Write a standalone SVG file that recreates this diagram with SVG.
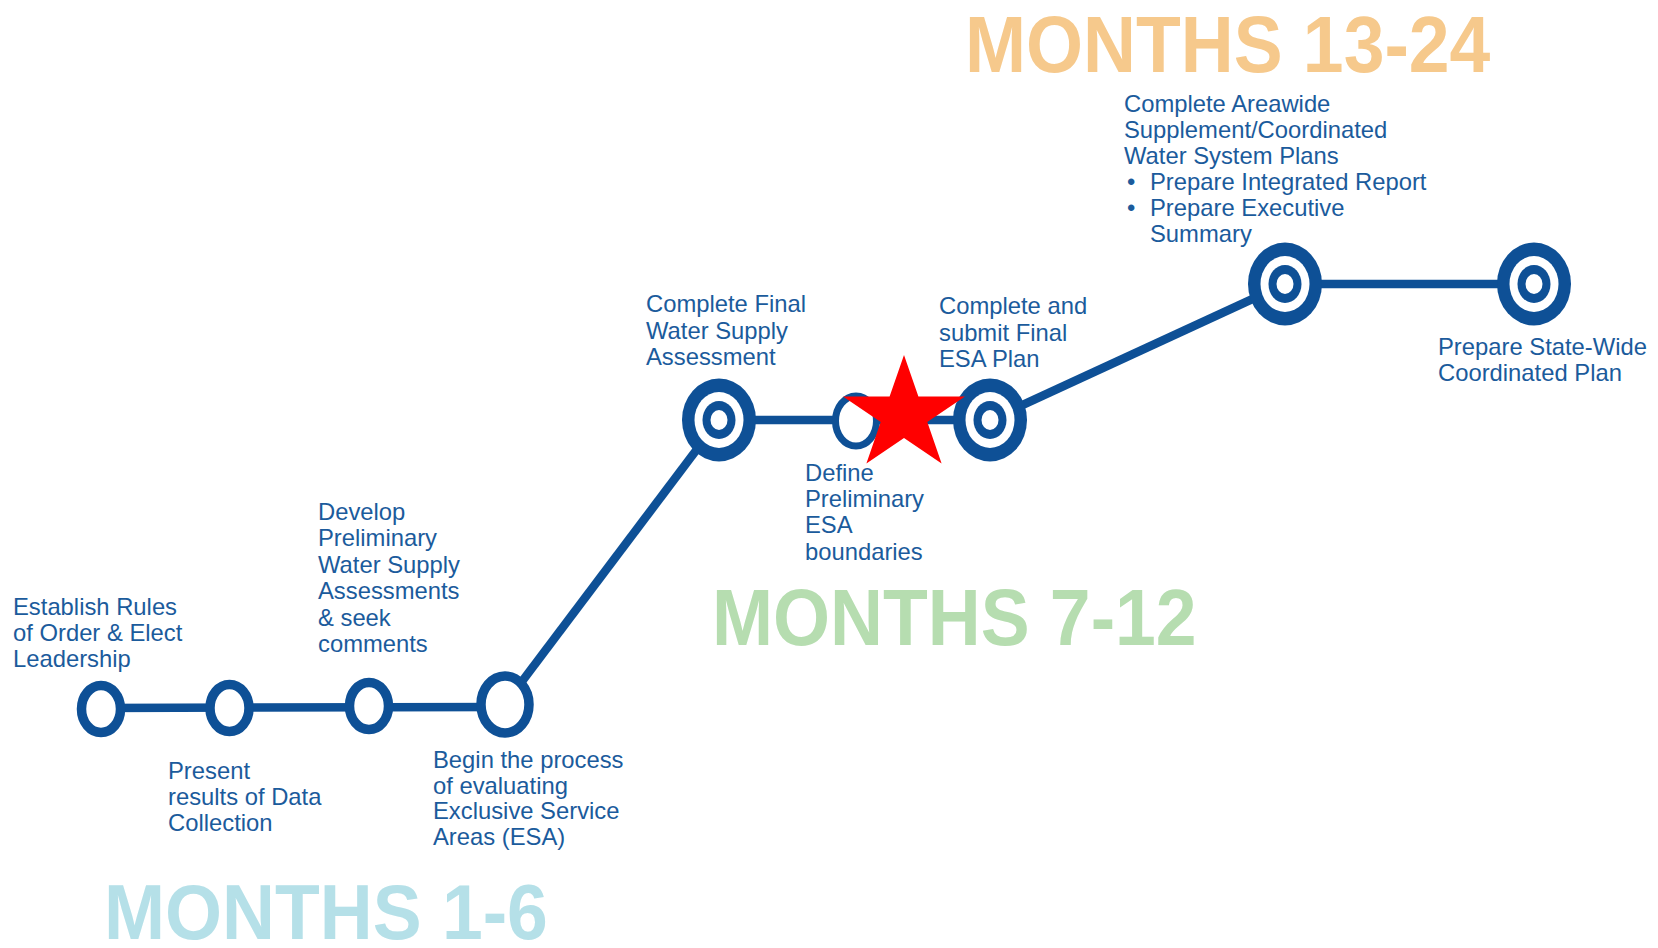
<svg xmlns="http://www.w3.org/2000/svg" xmlns:xlink="http://www.w3.org/1999/xlink" width="1658" height="948" viewBox="0 0 1658 948">
<style>
.lbl{font-family:"Liberation Sans",Arial,sans-serif;font-size:23.8px;fill:#1b5b9c;}
.ttl{font-family:"Liberation Sans",Arial,sans-serif;font-size:73.3px;font-weight:bold;}
.conn{stroke:#0e5096;stroke-width:8.5;fill:none;}
.ring{stroke:#0e5096;stroke-width:9.5;fill:#fff;}
.dark{fill:#0e5096;}
.white{fill:#fff;}
</style>
<defs>
<g id="target">
<ellipse class="dark" cx="0" cy="0" rx="37" ry="41.5"/>
<ellipse class="white" cx="0" cy="0" rx="24.5" ry="28"/>
<ellipse class="dark" cx="0" cy="0" rx="16.5" ry="19"/>
<ellipse class="white" cx="0" cy="0" rx="8.5" ry="10"/>
</g>
</defs>
<rect width="1658" height="948" fill="#fff"/>

<g id="titles">
<text class="ttl" fill="#f6c98c" transform="translate(965,72) scale(1,1.08)">MONTHS 13-24</text>
<text class="ttl" fill="#b6ddb0" transform="translate(712,645) scale(1,1.08)">MONTHS 7-12</text>
<text class="ttl" fill="#b5e0e8" transform="translate(104,939) scale(1,1.07)">MONTHS 1-6</text>
</g>

<g id="connectors">
<line class="conn" x1="101" y1="708" x2="505" y2="707"/>
<line class="conn" x1="505" y1="704" x2="719" y2="420"/>
<line class="conn" x1="719" y1="420" x2="990" y2="420"/>
<line class="conn" x1="990" y1="420" x2="1285" y2="284"/>
<line class="conn" x1="1285" y1="284" x2="1534" y2="284"/>
</g>

<g id="n1"><ellipse class="ring" cx="101" cy="709" rx="19.5" ry="23.5"/>
<text class="lbl" x="13" y="615"><tspan x="13">Establish Rules</tspan><tspan x="13" dy="26">of Order &amp; Elect</tspan><tspan x="13" dy="26">Leadership</tspan></text></g>

<g id="n2"><ellipse class="ring" cx="229.5" cy="708" rx="19.5" ry="23.5"/>
<text class="lbl" x="168" y="779"><tspan x="168">Present</tspan><tspan x="168" dy="26">results of Data</tspan><tspan x="168" dy="26">Collection</tspan></text></g>

<g id="n3"><ellipse class="ring" cx="369" cy="706" rx="19.5" ry="23.5"/>
<text class="lbl" x="318" y="520"><tspan x="318">Develop</tspan><tspan x="318" dy="26.4">Preliminary</tspan><tspan x="318" dy="26.4">Water Supply</tspan><tspan x="318" dy="26.4">Assessments</tspan><tspan x="318" dy="26.4">&amp; seek</tspan><tspan x="318" dy="26.4">comments</tspan></text></g>

<g id="n4"><ellipse class="ring" cx="505" cy="704.5" rx="24" ry="28.5"/>
<text class="lbl" x="433" y="768"><tspan x="433">Begin the process</tspan><tspan x="433" dy="25.5">of evaluating</tspan><tspan x="433" dy="25.5">Exclusive Service</tspan><tspan x="433" dy="25.5">Areas (ESA)</tspan></text></g>

<g id="n5"><use xlink:href="#target" x="719" y="420"/>
<text class="lbl" x="646" y="312"><tspan x="646">Complete Final</tspan><tspan x="646" dy="26.5">Water Supply</tspan><tspan x="646" dy="26.5">Assessment</tspan></text></g>

<g id="n6"><ellipse class="ring" cx="856" cy="421" rx="20.5" ry="25" style="stroke-width:7"/>
<text class="lbl" x="805" y="481"><tspan x="805">Define</tspan><tspan x="805" dy="26.2">Preliminary</tspan><tspan x="805" dy="26.2">ESA</tspan><tspan x="805" dy="26.2">boundaries</tspan></text></g>

<g id="n7"><use xlink:href="#target" x="990" y="420"/>
<text class="lbl" x="939" y="314"><tspan x="939">Complete and</tspan><tspan x="939" dy="26.5">submit Final</tspan><tspan x="939" dy="26.5">ESA Plan</tspan></text></g>

<g id="n8"><use xlink:href="#target" x="1285" y="284"/>
<text class="lbl" x="1124" y="112"><tspan x="1124">Complete Areawide</tspan><tspan x="1124" dy="26">Supplement/Coordinated</tspan><tspan x="1124" dy="26">Water System Plans</tspan><tspan x="1127" dy="26">•</tspan><tspan x="1150">Prepare Integrated Report</tspan><tspan x="1127" dy="26">•</tspan><tspan x="1150">Prepare Executive</tspan><tspan x="1150" dy="26">Summary</tspan></text></g>

<g id="n9"><use xlink:href="#target" x="1534" y="284"/>
<text class="lbl" x="1438" y="355"><tspan x="1438">Prepare State-Wide</tspan><tspan x="1438" dy="26">Coordinated Plan</tspan></text></g>

<g id="star"><polygon fill="#ff0000" points="904,355 918.4,396.4 965,396.5 927.3,422.1 941.6,463.5 904,438 866.4,463.5 880.7,422.1 843,396.5 889.6,396.4"/></g>
</svg>
